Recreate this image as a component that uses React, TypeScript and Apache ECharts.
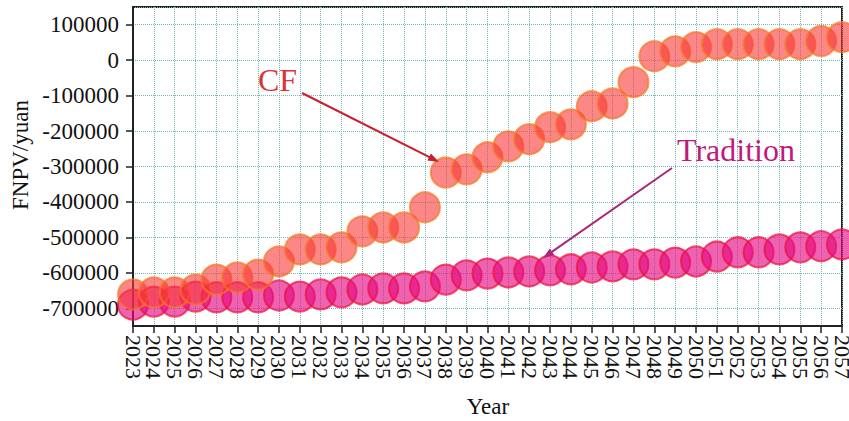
import React, { useEffect, useRef } from "react";
import * as echarts from "echarts";

const years: string[] = [
  "2023", "2024", "2025", "2026", "2027", "2028", "2029", "2030", "2031", "2032",
  "2033", "2034", "2035", "2036", "2037", "2038", "2039", "2040", "2041", "2042",
  "2043", "2044", "2045", "2046", "2047", "2048", "2049", "2050", "2051", "2052",
  "2053", "2054", "2055", "2056", "2057",
];

const cfValues: number[] = [
  -661000, -655000, -655000, -647000, -619000, -613000, -605000, -568000, -534000, -534000,
  -528000, -483000, -472000, -472000, -415000, -317000, -308000, -274000, -243000, -223000,
  -189000, -181000, -130000, -122000, -62000, 11000, 25000, 37000, 45000, 45000,
  45000, 45000, 45000, 54000, 65000,
];

const traditionValues: number[] = [
  -690000, -681000, -681000, -667000, -669000, -669000, -669000, -664000, -667000, -661000,
  -655000, -647000, -644000, -644000, -638000, -619000, -607000, -602000, -599000, -596000,
  -593000, -590000, -585000, -582000, -576000, -576000, -571000, -568000, -554000, -542000,
  -542000, -534000, -528000, -525000, -520000,
];

const SERIF = "Liberation Serif";

function arrow(x1: number, y1: number, x2: number, y2: number, color: string, width: number) {
  const dx = x2 - x1;
  const dy = y2 - y1;
  const len = Math.sqrt(dx * dx + dy * dy);
  const ux = dx / len;
  const uy = dy / len;
  const hl = 11;
  const hw = 4;
  const bx = x2 - ux * hl;
  const by = y2 - uy * hl;
  const nx = -uy * hw;
  const ny = ux * hw;
  return [
    {
      type: "line",
      shape: { x1, y1, x2: bx + ux * 2, y2: by + uy * 2 },
      style: { stroke: color, lineWidth: width },
      z: 100,
    },
    {
      type: "polygon",
      shape: { points: [[x2, y2], [bx + nx, by + ny], [bx - nx, by - ny]] },
      style: { fill: color },
      z: 100,
    },
  ];
}

export default function App() {
  const ref = useRef<HTMLDivElement>(null);
  useEffect(() => {
    document.body.style.margin = "0";
    if (!ref.current) return;
    const chart = echarts.init(ref.current, null, { renderer: "svg" });
    chart.setOption({
      animation: false,
      backgroundColor: "#ffffff",
      textStyle: { fontFamily: SERIF },
      grid: {
        left: 133,
        top: 7,
        right: 7,
        bottom: 95,
        containLabel: false,
        outerBoundsMode: "none",
        show: true,
        borderColor: "#222",
        borderWidth: 2,
        backgroundColor: "transparent",
      },
      xAxis: {
        type: "category",
        data: years,
        boundaryGap: false,
        axisLine: { onZero: false, lineStyle: { color: "#222", width: 2 } },
        axisTick: { show: true, length: 7, interval: 0, lineStyle: { color: "#222", width: 1.5 } },
        axisLabel: {
          interval: 0,
          rotate: -90,
          margin: 9,
          fontFamily: SERIF,
          fontSize: 22,
          color: "#111",
        },
        splitLine: {
          show: true,
          interval: 0,
          lineStyle: { color: "#79b6b8", type: "dotted", width: 1 },
        },
      },
      yAxis: {
        type: "value",
        min: -750000,
        max: 150000,
        minInterval: 100000,
        maxInterval: 100000,
        splitNumber: 9,
        axisLine: { show: true, onZero: false, lineStyle: { color: "#222", width: 2 } },
        axisTick: { show: true, length: 7, lineStyle: { color: "#222", width: 1.5 } },
        axisLabel: {
          showMinLabel: false,
          showMaxLabel: false,
          margin: 14,
          fontFamily: SERIF,
          fontSize: 23,
          color: "#111",
          formatter: (v: number) => String(v),
        },
        splitLine: {
          show: true,
          lineStyle: { color: "#79b6b8", type: "dotted", width: 1 },
        },
      },
      series: [
        {
          name: "Tradition",
          type: "scatter",
          data: traditionValues,
          symbol: "circle",
          symbolSize: 30,
          clip: true,
          itemStyle: {
            color: "rgba(228, 10, 130, 0.8)",
            borderColor: "rgba(235, 16, 60, 0.9)",
            borderWidth: 2,
          },
        },
        {
          name: "CF",
          type: "scatter",
          data: cfValues,
          symbol: "circle",
          symbolSize: 30,
          clip: true,
          itemStyle: {
            color: "rgba(248, 55, 55, 0.75)",
            borderColor: "rgba(245, 120, 35, 0.9)",
            borderWidth: 2,
          },
        },
      ],
      graphic: [
        {
          type: "text",
          x: 20,
          y: 155,
          rotation: Math.PI / 2,
          style: {
            text: "FNPV/yuan",
            fontFamily: SERIF,
            fontSize: 23,
            fill: "#111",
            textAlign: "center",
            textVerticalAlign: "middle",
          },
        },
        {
          type: "text",
          x: 488,
          y: 406,
          style: {
            text: "Year",
            fontFamily: SERIF,
            fontSize: 23,
            fill: "#111",
            textAlign: "center",
            textVerticalAlign: "middle",
          },
        },
        {
          type: "text",
          x: 258,
          y: 80,
          style: {
            text: "CF",
            fontFamily: SERIF,
            fontSize: 32,
            fill: "#d8343a",
            textAlign: "left",
            textVerticalAlign: "middle",
          },
          z: 100,
        },
        {
          type: "text",
          x: 677,
          y: 150,
          style: {
            text: "Tradition",
            fontFamily: SERIF,
            fontSize: 32,
            fill: "#c0197e",
            textAlign: "left",
            textVerticalAlign: "middle",
          },
          z: 100,
        },
        ...arrow(302, 93, 439, 162, "#c8202a", 2),
        ...arrow(672, 168, 543, 258, "#a8287c", 2),
      ],
    });
    return () => chart.dispose();
  }, []);
  return <div ref={ref} style={{ width: 849, height: 421 }} />;
}
